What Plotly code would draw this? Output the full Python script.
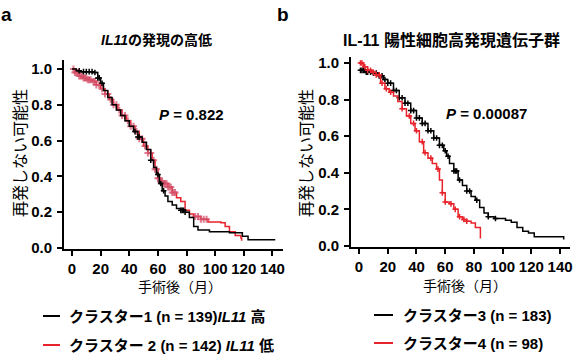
import plotly.graph_objects as go

W, H = 577, 357

# ---------------- data ----------------
# Panel a: IL11 high/low
a_c1_t = [0, 3, 6, 9, 12, 15, 18, 20, 22, 25, 28, 31, 34, 37, 40, 43, 46, 49, 52, 55, 57, 59, 61, 63, 65, 67, 70, 73, 76, 79, 82, 85, 88, 96, 110, 119, 123, 142]
a_c1_s = [1.0, 0.99, 0.985, 0.985, 0.985, 0.98, 0.95, 0.92, 0.88, 0.84, 0.80, 0.77, 0.74, 0.71, 0.68, 0.65, 0.62, 0.59, 0.55, 0.49, 0.45, 0.41, 0.36, 0.32, 0.29, 0.26, 0.24, 0.22, 0.21, 0.20, 0.17, 0.12, 0.10, 0.09, 0.085, 0.065, 0.045, 0.045]
a_c1_cens = [5, 8, 10, 12, 14, 16, 18, 19, 21, 44, 46, 47, 55, 60, 62, 64, 76, 77, 78, 79]

a_c2_t = [0, 2, 5, 8, 11, 14, 17, 20, 23, 26, 29, 32, 35, 38, 41, 44, 47, 50, 53, 56, 58, 60, 62, 64, 67, 70, 73, 76, 79, 82, 85, 90, 95, 100, 104, 107, 110, 114, 118, 118.5]
a_c2_s = [1.0, 0.98, 0.96, 0.95, 0.94, 0.93, 0.91, 0.89, 0.86, 0.83, 0.80, 0.77, 0.74, 0.71, 0.68, 0.65, 0.61, 0.57, 0.53, 0.49, 0.44, 0.39, 0.37, 0.36, 0.34, 0.31, 0.28, 0.26, 0.21, 0.19, 0.175, 0.16, 0.145, 0.145, 0.14, 0.12, 0.09, 0.07, 0.055, 0.04]
a_c2_cens = [1, 2, 3, 4, 5, 6, 7, 8, 9, 10, 11, 12, 13, 15, 16, 17, 19, 21, 23, 25, 27, 29, 31, 33, 35, 37, 39, 41, 43, 45, 47, 49, 51, 53, 55, 57, 58, 59, 60, 61, 62, 63, 64, 65, 66, 67, 68, 69, 70, 71, 72, 86, 88, 90, 92, 94]

# Panel b: IL-11 positive cell high-expression gene group
b_c3_t = [0, 5, 10, 14, 17, 20, 24, 28, 32, 36, 40, 44, 48, 52, 56, 59, 61, 63, 66, 69, 72, 75, 78, 81, 84, 87, 90, 94, 98, 102, 106, 110, 114, 118, 122, 142, 142.5]
b_c3_s = [0.96, 0.95, 0.945, 0.93, 0.91, 0.89, 0.85, 0.81, 0.78, 0.74, 0.70, 0.67, 0.63, 0.59, 0.55, 0.52, 0.49, 0.45, 0.41, 0.36, 0.33, 0.30, 0.27, 0.25, 0.21, 0.18, 0.16, 0.15, 0.15, 0.14, 0.13, 0.10, 0.08, 0.07, 0.05, 0.05, 0.035]
b_c3_cens = [1, 2, 3, 4, 5, 6, 8, 10, 12, 14, 16, 18, 20, 22, 24, 26, 28, 30, 32, 34, 36, 38, 40, 42, 44, 46, 48, 50, 52, 54, 56, 58, 60, 62, 66, 67, 68, 70, 75, 77, 82, 90, 95]

b_c4_t = [0, 3, 6, 9, 12, 15, 18, 21, 24, 27, 30, 33, 36, 39, 42, 45, 48, 51, 54, 56, 58, 60, 63, 66, 69, 72, 75, 78, 81, 84, 84.5]
b_c4_s = [1.0, 0.98, 0.96, 0.95, 0.935, 0.89, 0.86, 0.84, 0.82, 0.79, 0.75, 0.71, 0.67, 0.63, 0.57, 0.51, 0.48, 0.45, 0.42, 0.36, 0.29, 0.24, 0.23, 0.20, 0.16, 0.145, 0.135, 0.125, 0.10, 0.10, 0.04]
b_c4_cens = [1, 2, 4, 6, 8, 10, 12, 14, 16, 19, 22, 30, 35, 38, 40, 44, 46, 50, 55, 58, 60, 64, 67, 70, 73, 75]

x_ticks = [0, 20, 40, 60, 80, 100, 120, 140]
y_ticks = [0.0, 0.2, 0.4, 0.6, 0.8, 1.0]
y_tick_text = ["0.0", "0.2", "0.4", "0.6", "0.8", "1.0"]

title_a = "<i>IL11</i>の発現の高低"
title_b = "IL-11 陽性細胞高発現遺伝子群"
p_a = "<i>P</i> = 0.822"
p_b = "<i>P</i> = 0.00087"
x_title = "手術後（月）"
y_title = "再発しない可能性"
leg_a = ["クラスター1 (n = 139)<i>IL11</i> 高", "クラスター 2 (n = 142) <i>IL11</i> 低"]
leg_b = ["クラスター3 (n = 183)", "クラスター4 (n = 98)"]

BLACK = "#000000"
RED = "#e8232b"
PINK = "rgba(212,80,105,0.75)"
FONT = "Liberation Sans, Arial, Noto Sans CJK JP, sans-serif"


def step_at(ts, ss, c):
    v = ss[0]
    for t, s in zip(ts, ss):
        if t <= c:
            v = s
    return v


fig = go.Figure()


def add_curve(ts, ss, cens, color, ccolor, csize, cwidth, xa, ya):
    fig.add_trace(go.Scatter(x=ts, y=ss, mode="lines", line=dict(color=color, width=1.5, shape="hv"),
                             xaxis=xa, yaxis=ya, showlegend=False, hoverinfo="skip"))
    fig.add_trace(go.Scatter(x=cens, y=[step_at(ts, ss, c) for c in cens], mode="markers",
                             marker=dict(symbol="cross-thin", size=csize, line=dict(color=ccolor, width=cwidth)),
                             xaxis=xa, yaxis=ya, showlegend=False, hoverinfo="skip"))


add_curve(a_c2_t, a_c2_s, a_c2_cens, RED, PINK, 5, 2, "x", "y")
add_curve(a_c1_t, a_c1_s, a_c1_cens, BLACK, BLACK, 4, 1.5, "x", "y")
add_curve(b_c3_t, b_c3_s, b_c3_cens, BLACK, BLACK, 4, 1.5, "x2", "y2")
add_curve(b_c4_t, b_c4_s, b_c4_cens, RED, RED, 4, 1.5, "x2", "y2")


def px_x(p):
    return p / W


def px_y(p):
    return 1 - p / H


tickfont = dict(family=FONT, size=15, color="black", weight="bold")
ax_common = dict(showline=True, linecolor="black", linewidth=2, ticks="outside", ticklen=5,
                 tickwidth=2, tickcolor="black", showgrid=False, zeroline=False, tickfont=tickfont,
                 automargin=False)

fig.update_layout(
    template="none",
    width=W, height=H, margin=dict(l=0, r=0, t=0, b=0, autoexpand=False),
    plot_bgcolor="white", paper_bgcolor="white",
    xaxis=dict(domain=[px_x(64), px_x(283)], range=[-5.6, 147.4], tickvals=x_ticks, anchor="y", **ax_common),
    yaxis=dict(domain=[px_y(249), px_y(60)], range=[-0.006, 1.05], tickvals=y_ticks, ticktext=y_tick_text,
               anchor="x", ticklabelstandoff=2, **ax_common),
    xaxis2=dict(domain=[px_x(351), px_x(570)], range=[-5.6, 146.9], tickvals=x_ticks, anchor="y2", **ax_common),
    yaxis2=dict(domain=[px_y(247), px_y(57)], range=[-0.006, 1.033], tickvals=y_ticks, ticktext=y_tick_text,
                anchor="x2", ticklabelstandoff=2, **ax_common),
)


def ann(text, x, y, size=14, xanchor="center", bold=True, angle=0):
    fig.add_annotation(text=text, x=px_x(x), y=px_y(y), xref="paper", yref="paper",
                       xanchor=xanchor, yanchor="middle", showarrow=False, textangle=angle,
                       font=dict(family=FONT, size=size, color="black", weight="bold" if bold else "normal"))


ann("a", 6, 15, size=19)
ann("b", 283, 15, size=19)
ann(title_a, 156, 40, size=14)
ann(title_b, 451, 40, size=16)
ann(p_a, 157, 115, size=15, xanchor="left")
ann(p_b, 444, 113, size=15, xanchor="left")
ann(x_title, 180, 287, size=14, bold=False)
ann(x_title, 465, 286, size=14, bold=False)
ann(y_title, 20, 153, size=16, bold=False, angle=-90)
ann(y_title, 306, 153, size=16, bold=False, angle=-90)


def leg(x0, x1, y, color, text, tx):
    fig.add_shape(type="line", x0=px_x(x0), x1=px_x(x1), y0=px_y(y), y1=px_y(y), xref="paper", yref="paper",
                  line=dict(color=color, width=2))
    ann(text, tx, y, size=15, xanchor="left")


leg(43, 60, 316, BLACK, leg_a[0], 67)
leg(43, 60, 345, RED, leg_a[1], 67)
leg(374, 393, 315, BLACK, leg_b[0], 401)
leg(374, 393, 343, RED, leg_b[1], 401)

fig.write_html("out.html", config={"displayModeBar": False},
               post_script="document.body.style.margin='0';document.body.style.overflow='hidden';")
